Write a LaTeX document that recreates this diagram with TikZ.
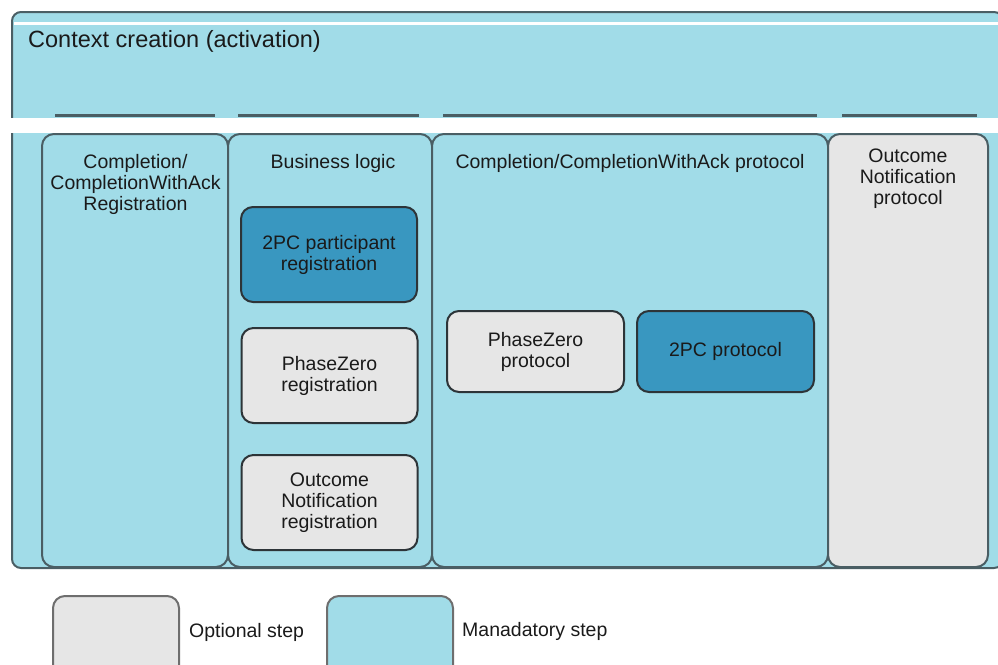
\documentclass[tikz,border=0pt]{standalone}
\usepackage{fontspec}
\setmainfont{Liberation Sans}
\definecolor{lightblue}{RGB}{161,220,232}
\definecolor{darkblue}{RGB}{57,151,192}
\definecolor{grayfill}{RGB}{230,230,230}
\definecolor{frame}{RGB}{74,94,100}
\definecolor{boxline}{RGB}{45,52,56}
\definecolor{ink}{RGB}{26,26,26}
\definecolor{keyline}{RGB}{110,110,110}
\begin{document}
\begin{tikzpicture}[x=1pt,y=-1pt,
  txt/.style={font=\fontsize{19.5}{21}\selectfont, text=ink, align=center, inner sep=0pt},
  outer/.style={draw=frame, line width=2pt, fill=lightblue, rounded corners=9pt},
  column/.style={draw=frame, line width=2pt, rounded corners=12pt},
  stepbox/.style={txt, draw=boxline, line width=2pt, rounded corners=12pt,
    minimum width=176pt},
  mand/.style={stepbox, fill=darkblue},
  opt/.style={stepbox, fill=grayfill},
  seg/.style={draw=frame, line width=3pt},
  keybox/.style={draw=keyline, line width=2pt, rounded corners=12pt,
    minimum width=126pt, minimum height=90pt, anchor=north west, inner sep=0pt},
]
\useasboundingbox (0,0) rectangle (998,664);
\clip (0,0) rectangle (998,664);

% outer container: context creation
\draw[outer] (12,12) rectangle (1003,568);
\fill[white] (14,22) rectangle (998,24.5);
\fill[white] (0,117.5) rectangle (998,133);
\draw[seg] (55,115.5) -- (215,115.5);
\draw[seg] (238,115.5) -- (419,115.5);
\draw[seg] (443,115.5) -- (817,115.5);
\draw[seg] (842,115.5) -- (977,115.5);
\node[txt, font=\fontsize{23.5}{25}\selectfont, anchor=west] (ctx) at (28,41.5)
  {Context creation (activation)};

% the four columns
\draw[column, fill=lightblue] (42,134) rectangle (228,567);
\draw[column, fill=lightblue] (228,134) rectangle (432,567);
\draw[column, fill=lightblue] (432,134) rectangle (828,567);
\draw[column, fill=grayfill] (828,134) rectangle (988,567);

% column headings
\node[txt] (h1) at (135.5,184.5) {Completion/\\CompletionWithAck\\Registration};
\node[txt] (h2) at (333,163.5) {Business logic};
\node[txt] (h3) at (630,163.5) {Completion/CompletionWithAck protocol};
\node[txt] (h4) at (908,178.5) {Outcome\\Notification\\protocol};

% steps inside the columns
\node[mand, minimum height=95pt] (pp) at (329,254.5) {2PC participant\\registration};
\node[opt, minimum height=95pt] (pzr) at (329.5,375.5) {PhaseZero\\registration};
\node[opt, minimum height=95pt] (onr) at (329.5,502.5) {Outcome\\Notification\\registration};
\node[opt, minimum width=177pt, minimum height=81pt] (pzp) at (535.5,351.5) {PhaseZero\\protocol};
\node[mand, minimum width=177pt, minimum height=81pt] (tpc) at (725.5,351.5) {2PC protocol};

% key
\node[keybox, fill=grayfill] (kopt) at (52,595) {};
\node[txt, anchor=west] (lopt) at (189,632.5) {Optional step};
\node[keybox, fill=lightblue] (kman) at (326,595) {};
\node[txt, anchor=west] (lman) at (462,631.5) {Manadatory step};
\end{tikzpicture}
\end{document}
